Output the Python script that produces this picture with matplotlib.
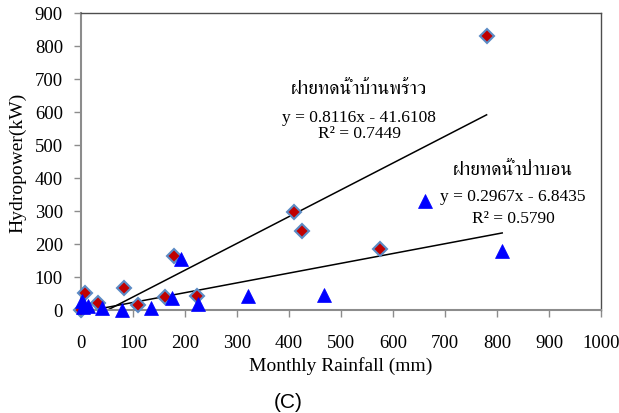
import matplotlib
matplotlib.use("Agg")
import matplotlib.pyplot as plt
import numpy as np
from matplotlib import font_manager
from matplotlib.ft2font import FT2Font

# data
rain_banphrao = [0, 8, 32, 83, 110, 162, 178, 224, 410, 425, 575, 780]
power_banphrao = [1, 52, 21, 67, 16, 38, 163, 41, 296, 240, 185, 829]
rain_pabon = [2, 4, 14, 40, 79, 135, 174, 193, 225, 322, 467, 662, 810]
power_pabon = [28, 10, 12, 5, 1, 6, 36, 155, 18, 43, 45, 331, 180]

# trend lines (slope, intercept) as printed on the chart
fit_banphrao = (0.8116, -41.6108)
fit_pabon = (0.2967, -6.8435)
r2_banphrao = 0.7449
r2_pabon = 0.5790

label_banphrao = "ฝายทดน้ำบ้านพร้าว"
label_pabon = "ฝายทดน้ำป่าบอน"


def find_thai_font():
    found = []
    for f in font_manager.fontManager.ttflist:
        try:
            if 0x0E1D in FT2Font(f.fname).get_charmap():
                found.append(f.name)
        except Exception:
            pass
    serif = [n for n in found if "Serif" in n]
    if serif:
        return serif[0]
    return found[0] if found else None


thai = find_thai_font()
serif = ["Liberation Serif", "DejaVu Serif"]
thai_fam = ([thai] if thai else []) + serif

fig = plt.figure(figsize=(6.19, 4.14), dpi=100)
ax = fig.add_axes([0.1309, 0.2488, 0.84, 0.7174])

# trend lines
xs = np.array([min(rain_banphrao), max(rain_banphrao)])
ax.plot(xs, fit_banphrao[0] * xs + fit_banphrao[1], color="black", lw=1.1, zorder=2)
xs = np.array([min(rain_pabon) - 2, max(rain_pabon)])
ax.plot(xs, fit_pabon[0] * xs + fit_pabon[1], color="black", lw=1.1, zorder=2)

# excel does not clip the markers at the plot edge
ax.plot(rain_banphrao, power_banphrao, ls="none", marker="D", ms=7.2,
        mfc="#C00000", mec="#5B8BC5", mew=1.5, zorder=3, clip_on=False)
ax.plot(rain_pabon, power_pabon, ls="none", marker="^", ms=10.5,
        mfc="#0000FF", mec="#0000FF", mew=0.5, zorder=4, clip_on=False)

ax.set_xlim(0, 1000)
ax.set_ylim(0, 900)
ax.set_xticks(range(0, 1001, 100))
ax.set_yticks(range(0, 901, 100))

for s in ["left", "bottom"]:
    ax.spines[s].set_color("#8c8c8c")
    ax.spines[s].set_linewidth(1.5)
for s in ["top", "right"]:
    ax.spines[s].set_color("#4d4d4d")
    ax.spines[s].set_linewidth(1.0)

ax.tick_params(axis="both", direction="out", length=5, width=1, color="#8c8c8c",
               labelsize=13.5)
ax.tick_params(axis="x", pad=12)
ax.tick_params(axis="y", pad=8)
for lab in ax.get_xticklabels() + ax.get_yticklabels():
    lab.set_family(serif)

ax.set_xlabel("Monthly Rainfall (mm)", family=serif, fontsize=14, labelpad=4)
ax.set_ylabel("Hydropower(kW)", family=serif, fontsize=14, labelpad=6)

ax.text(535, 672, label_banphrao, family=thai_fam, fontsize=14, ha="center", va="center")
ax.text(535, 585, "y = 0.8116x - 41.6108", family=serif, fontsize=12.5, ha="center", va="center")
ax.text(535, 535, "R² = %.4f" % r2_banphrao, family=serif, fontsize=12.5, ha="center", va="center")

ax.text(831, 427, label_pabon, family=thai_fam, fontsize=14, ha="center", va="center")
ax.text(831, 345, "y = 0.2967x - 6.8435", family=serif, fontsize=12.5, ha="center", va="center")
ax.text(831, 278, "R² = %.4f" % r2_pabon, family=serif, fontsize=12.5, ha="center", va="center")

fig.text(0.465, 0.027, "(C)", family=["Liberation Sans", "DejaVu Sans"], fontsize=15,
         ha="center", va="center")

fig.savefig("out.png", dpi=100)
